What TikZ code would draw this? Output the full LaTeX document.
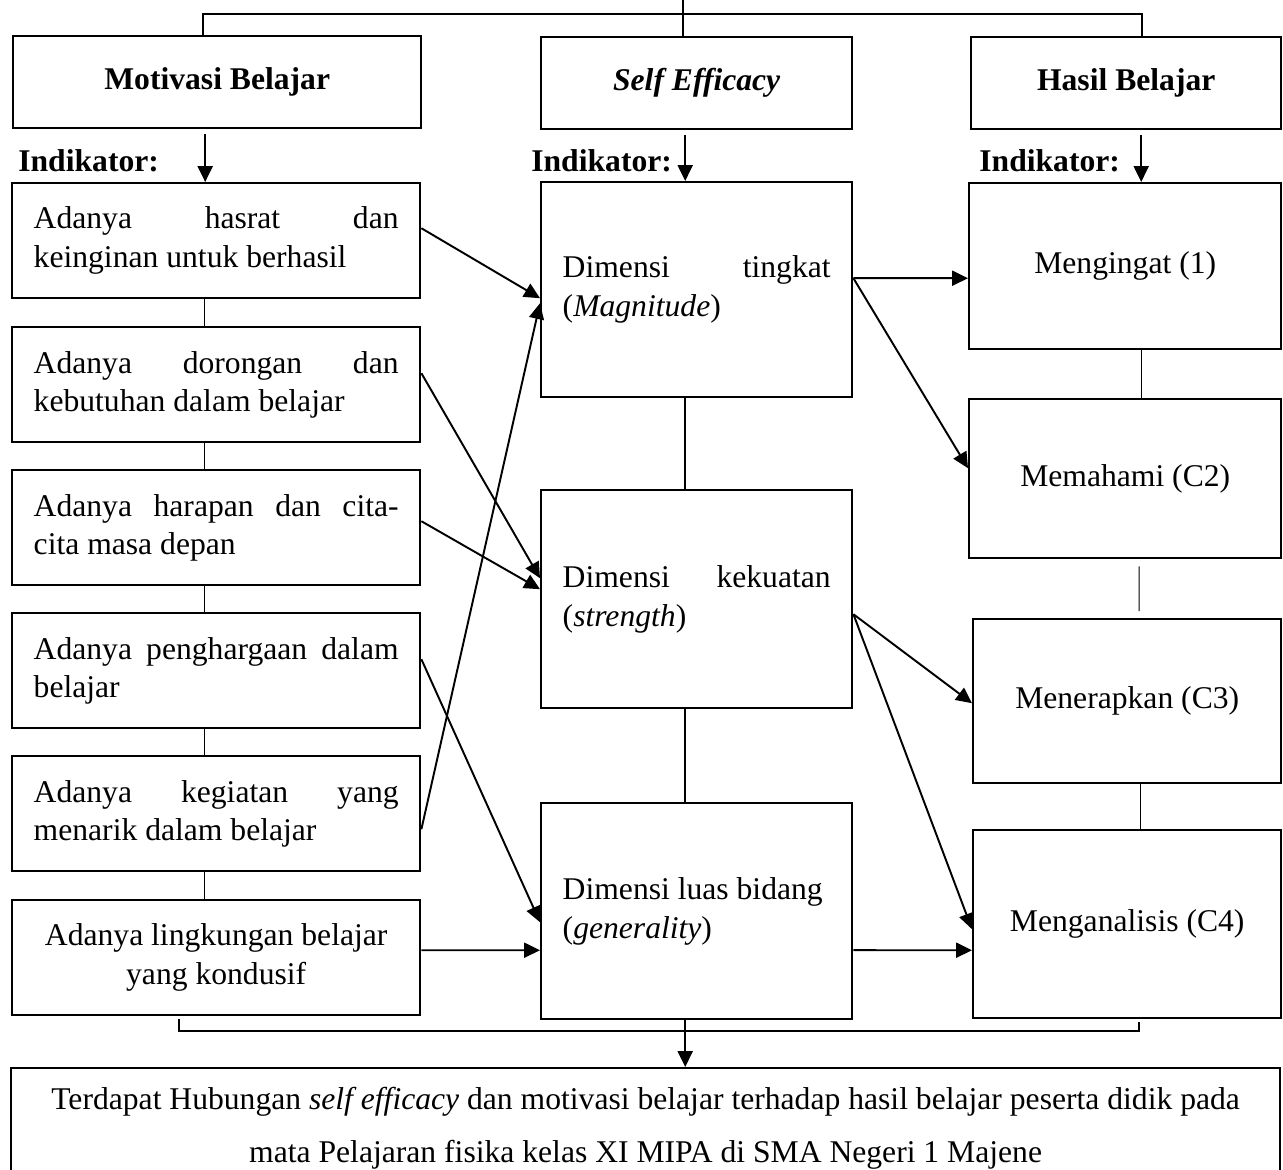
\documentclass[tikz,border=0pt]{standalone}
\usepackage{fontspec}
\setmainfont{Liberation Serif}
\usetikzlibrary{arrows.meta}

\begin{document}
\begin{tikzpicture}[x=0.02cm, y=-0.02cm,
  every node/.style={font=\fontsize{18}{22}\selectfont, inner sep=0pt},
  box/.style={draw, line width=1.4pt, anchor=north west},
  headbox/.style={box, font=\fontsize{18}{22}\selectfont\bfseries, minimum height=1.84cm},
  indbox/.style={box, minimum width=8.16cm, minimum height=2.3cm, text width=7.3cm, align=justify},
  dimbox/.style={box, minimum width=6.22cm, text width=5.36cm, align=justify},
  hasilbox/.style={box, align=center},
  indlabel/.style={anchor=base west, font=\fontsize{18}{22}\selectfont\bfseries},
  arr/.style={line width=1.1pt, -{Triangle[length=9pt,width=8.5pt]}},
  thinlink/.style={line width=0.6pt},
  thicklink/.style={line width=1.2pt}
]
\useasboundingbox (0,0) rectangle (1283,1169);

% header boxes
\node[headbox, minimum width=8.16cm] (motiv) at (12,35)  {Motivasi Belajar};
\node[headbox, minimum width=6.22cm] (se)    at (540,36) {\textit{Self Efficacy}};
\node[headbox, minimum width=6.2cm]  (hasil) at (970,36) {Hasil Belajar};

% labels
\node[indlabel] (lab1) at (18,172)  {Indikator:};
\node[indlabel] (lab2) at (531,172) {Indikator:};
\node[indlabel] (lab3) at (979,172) {Indikator:};

% motivasi indicators
\node[indbox] (ind1) at (11,182) {Adanya hasrat dan\linebreak keinginan untuk berhasil};
\node[indbox] (ind2) at (11,326) {Adanya dorongan dan\linebreak kebutuhan dalam belajar};
\node[indbox] (ind3) at (11,469) {Adanya harapan dan cita-\linebreak cita masa depan};
\node[indbox] (ind4) at (11,612) {Adanya penghargaan dalam\linebreak belajar};
\node[indbox] (ind5) at (11,755) {Adanya kegiatan yang\linebreak menarik dalam belajar};
\node[indbox, align=flush center] (ind6) at (11,899) {Adanya lingkungan belajar\\ yang kondusif};

% self efficacy dimensions
\node[dimbox, minimum height=4.3cm]  (mag) at (540,181) {Dimensi tingkat\linebreak (\textit{Magnitude})};
\node[dimbox, minimum height=4.36cm] (str) at (540,489) {Dimensi kekuatan\linebreak (\textit{strength})};
\node[dimbox, minimum height=4.32cm] (gen) at (540,802) {Dimensi luas bidang\\ (\textit{generality})};

% hasil belajar indicators
\node[hasilbox, minimum width=6.24cm, minimum height=3.32cm] (ming)   at (968,182) {Mengingat (1)};
\node[hasilbox, minimum width=6.24cm, minimum height=3.18cm] (mema)   at (968,398) {Memahami (C2)};
\node[hasilbox, minimum width=6.16cm, minimum height=3.28cm] (mener)  at (972,618) {Menerapkan (C3)};
\node[hasilbox, minimum width=6.16cm, minimum height=3.76cm] (mengan) at (972,829) {Menganalisis (C4)};

% conclusion
\node[box, minimum width=25.38cm, text width=25cm, align=flush center, inner ysep=0.38cm,
  font=\fontsize{18}{30}\selectfont] (hasilakhir) at (10,1067)
  {Terdapat Hubungan \textit{self efficacy} dan motivasi belajar terhadap hasil belajar peserta didik pada\\
   mata Pelajaran fisika kelas XI MIPA di SMA Negeri 1 Majene};

% top bracket
\coordinate (topc) at (683,0);
\coordinate (bar)  at (683,14);
\draw[thicklink] (topc) -- (topc |- se.north);
\draw[thicklink] ([xshift=-0.28cm]motiv.north) |- (bar) -| ([xshift=0.32cm]hasil.north);

% indikator arrows
\draw[arr] ([xshift=-0.24cm,yshift=-0.1cm]motiv.south) -- ([xshift=-0.24cm]motiv.south |- ind1.north);
\draw[arr] ([xshift=-0.23cm,yshift=-0.1cm]se.south) -- ([xshift=-0.23cm]se.south |- mag.north);
\draw[arr] ([xshift=0.3cm,yshift=-0.1cm]hasil.south) -- ([xshift=0.3cm]hasil.south |- ming.north);

% column links
\draw[thinlink] ([xshift=-0.23cm]ind1.south) -- ([xshift=-0.23cm]ind2.north);
\draw[thinlink] ([xshift=-0.23cm]ind2.south) -- ([xshift=-0.23cm]ind3.north);
\draw[thinlink] ([xshift=-0.23cm]ind3.south) -- ([xshift=-0.23cm]ind4.north);
\draw[thinlink] ([xshift=-0.23cm]ind4.south) -- ([xshift=-0.23cm]ind5.north);
\draw[thinlink] ([xshift=-0.23cm]ind5.south) -- ([xshift=-0.23cm]ind6.north);

\draw[thicklink] ([xshift=-0.23cm]mag.south) -- ([xshift=-0.23cm]str.north);
\draw[thicklink] ([xshift=-0.23cm]str.south) -- ([xshift=-0.23cm]gen.north);

\draw[thinlink] ([xshift=0.32cm]ming.south) -- ([xshift=0.32cm]mema.north);
\draw[thinlink] ([xshift=0.28cm,yshift=-0.14cm]mema.south) -- ([xshift=0.24cm,yshift=0.14cm]mener.north);
\draw[thinlink] ([xshift=0.26cm]mener.south) -- ([xshift=0.26cm]mengan.north);

% motivasi -> self efficacy
\draw[arr] ([yshift=0.25cm]ind1.east)  -- ([yshift=-0.17cm]mag.west);
\draw[arr] ([yshift=0.23cm]ind2.east)  -- ([yshift=0.42cm]str.west);
\draw[arr] ([yshift=0.13cm]ind3.east)  -- ([yshift=0.2cm]str.west);
\draw[arr] ([yshift=0.23cm]ind4.east)  -- ([yshift=-0.22cm]gen.west);
\draw[arr] ([yshift=-0.31cm]ind5.east) -- ([yshift=-0.27cm]mag.west);
\draw[arr] ([yshift=0.15cm]ind6.east)  -- ([yshift=-0.78cm]gen.west);

% self efficacy -> hasil belajar
\draw[arr] ([yshift=0.23cm]mag.east)  -- ([yshift=-0.24cm]ming.west);
\draw[arr] ([yshift=0.23cm]mag.east)  -- ([yshift=0.21cm]mema.west);
\draw[arr] ([yshift=-0.3cm]str.east)  -- ([yshift=-0.04cm]mener.west);
\draw[arr] ([yshift=-0.3cm]str.east)  -- ([yshift=-0.1cm]mengan.west);
\draw[arr] ([yshift=-0.78cm]gen.east) -- ([yshift=-0.52cm]mengan.west);

% bottom bracket
\coordinate (bbar) at (684,1031);
\draw[thicklink] ([xshift=-0.75cm,yshift=-0.06cm]ind6.south) |- (bbar) -| ([xshift=0.24cm,yshift=-0.06cm]mengan.south);
\draw[arr] ([xshift=-0.23cm]gen.south) -- ([xshift=-0.23cm]gen.south |- hasilakhir.north);

\end{tikzpicture}
\end{document}
